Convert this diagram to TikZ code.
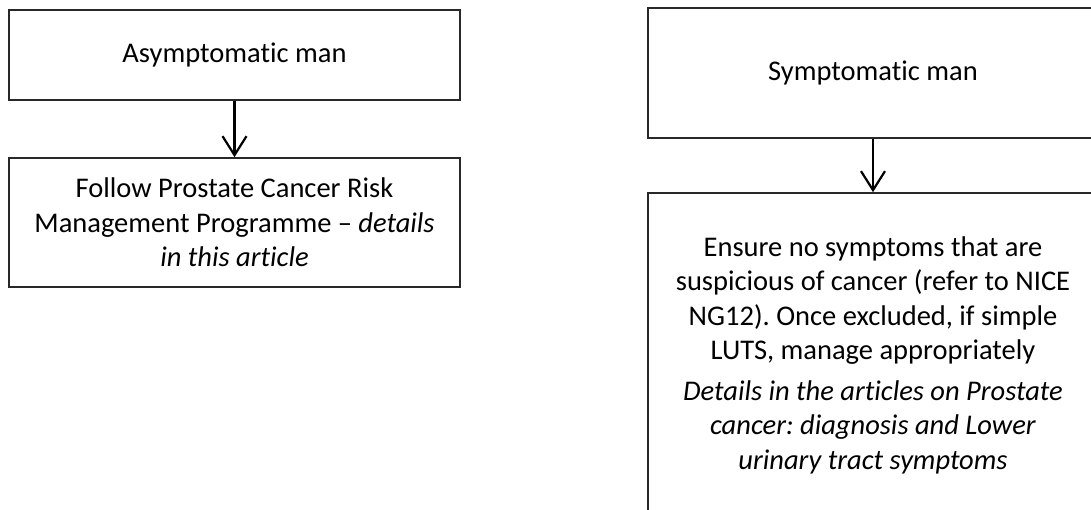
\documentclass[tikz,border=0pt]{standalone}
\usepackage{fontspec}
\setmainfont{Carlito}[Ligatures={NoCommon}]
\usepackage{tikz}
\usetikzlibrary{arrows.meta, positioning}
\definecolor{boxline}{RGB}{40, 40, 40}
\frenchspacing

\begin{document}
\begin{tikzpicture}[
    x=1pt, y=-1pt,
    flowBox/.style={draw=boxline, line width=1.6pt, fill=white, align=center, inner sep=0pt,
        font=\fontsize{28.5}{34.5}\selectfont},
    flowArrow/.style={draw=black, line width=2.2pt, -{Straight Barb[length=19pt, width=24pt, line width=2.2pt]}}
]
\useasboundingbox (0,0) rectangle (1091,509);
\clip (0,0) rectangle (1091,509);

% Left column (asymptomatic)
\node[flowBox, minimum width=451pt, minimum height=90pt] (asym) at (234.5,55) {Asymptomatic man};
\node[flowBox, minimum width=451pt, minimum height=129pt] (riskProg) at (234.5,222.5)
    {Follow Prostate Cancer Risk\\Management Programme -- \textit{details}\\\textit{in this article}};
\draw[flowArrow] (asym) -- (riskProg);

% Right column (symptomatic)
\node[flowBox, minimum width=450pt, minimum height=130pt] (sym) at (873,73) {Symptomatic man};
\node[flowBox, minimum width=450pt, minimum height=324pt] (ensure) at (873,355)
    {Ensure no symptoms that are\\suspicious of cancer (refer to NICE\\NG12). Once excluded, if simple\\LUTS, manage appropriately\\[6pt]
     \textit{Details in the articles on Prostate}\\\textit{cancer: diagnosis and Lower}\\\textit{urinary tract symptoms}};
\draw[flowArrow] (sym) -- (ensure);

\end{tikzpicture}
\end{document}
